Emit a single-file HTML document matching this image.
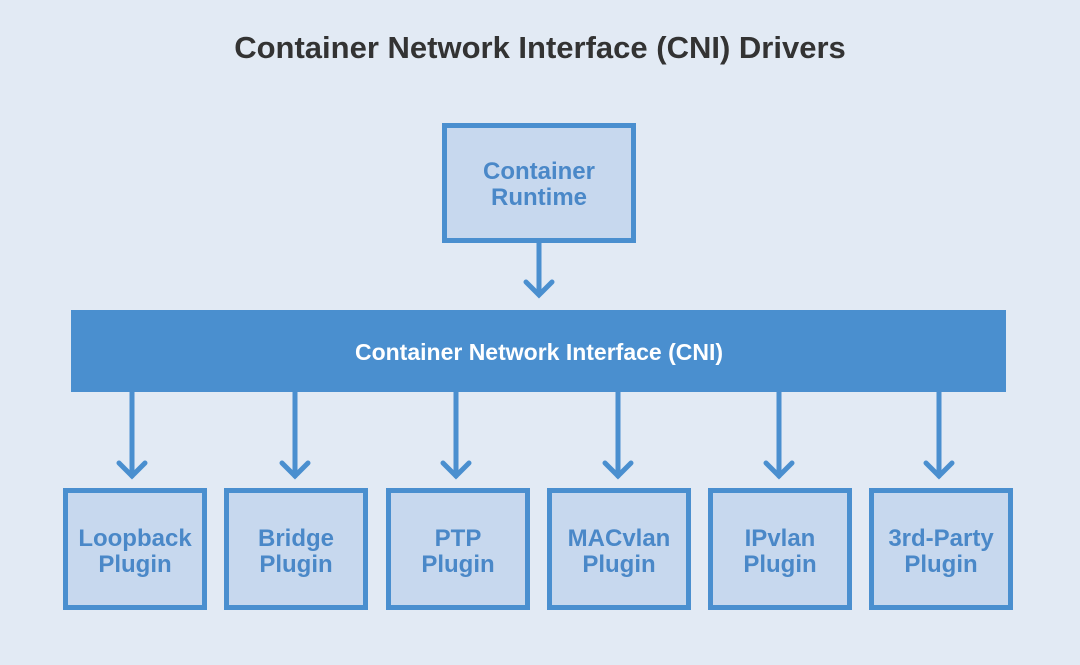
<!DOCTYPE html>
<html><head><meta charset="utf-8"><style>
body{margin:0;width:1080px;height:660px;background:#e2eaf4;overflow:hidden}
svg text{font-family:"Liberation Sans Narrow","Liberation Sans",sans-serif;font-weight:bold}
</style></head><body>
<svg width="1080" height="660" xmlns="http://www.w3.org/2000/svg">
<text x="540" y="58" text-anchor="middle" font-size="31" fill="#333">Container Network Interface (CNI) Drivers</text>
<rect x="444.5" y="125.5" width="189" height="115" fill="#c7d8ee" stroke="#4a8fcf" stroke-width="5"/>
<text x="539" y="179" text-anchor="middle" font-size="24" fill="#4a88c8">Container</text>
<text x="539" y="205" text-anchor="middle" font-size="24" fill="#4a88c8">Runtime</text>
<g stroke="#4a8fcf" stroke-width="5" fill="none" stroke-linecap="round">
<line x1="539" y1="243" x2="539" y2="294"/><polyline points="526,282 539,295 552,282"/>
</g>
<rect x="71" y="310" width="935" height="82" fill="#4a8fcf"/>
<text x="539" y="360" text-anchor="middle" font-size="23" fill="#fff">Container Network Interface (CNI)</text>
<g stroke="#4a8fcf" stroke-width="5" fill="none" stroke-linecap="round">
<line x1="132" y1="392" x2="132" y2="476"/><polyline points="119,463 132,476 145,463"/>
<line x1="295" y1="392" x2="295" y2="476"/><polyline points="282,463 295,476 308,463"/>
<line x1="456" y1="392" x2="456" y2="476"/><polyline points="443,463 456,476 469,463"/>
<line x1="618" y1="392" x2="618" y2="476"/><polyline points="605,463 618,476 631,463"/>
<line x1="779" y1="392" x2="779" y2="476"/><polyline points="766,463 779,476 792,463"/>
<line x1="939" y1="392" x2="939" y2="476"/><polyline points="926,463 939,476 952,463"/>
</g>
<g fill="#c7d8ee" stroke="#4a8fcf" stroke-width="5">
<rect x="65.5" y="490.5" width="139" height="117"/>
<rect x="226.5" y="490.5" width="139" height="117"/>
<rect x="388.5" y="490.5" width="139" height="117"/>
<rect x="549.5" y="490.5" width="139" height="117"/>
<rect x="710.5" y="490.5" width="139" height="117"/>
<rect x="871.5" y="490.5" width="139" height="117"/>
</g>
<g font-size="24" fill="#4a88c8" text-anchor="middle">
<text x="135" y="546">Loopback</text><text x="135" y="572">Plugin</text>
<text x="296" y="546">Bridge</text><text x="296" y="572">Plugin</text>
<text x="458" y="546">PTP</text><text x="458" y="572">Plugin</text>
<text x="619" y="546">MACvlan</text><text x="619" y="572">Plugin</text>
<text x="780" y="546">IPvlan</text><text x="780" y="572">Plugin</text>
<text x="941" y="546">3rd-Party</text><text x="941" y="572">Plugin</text>
</g>
</svg>
</body></html>
